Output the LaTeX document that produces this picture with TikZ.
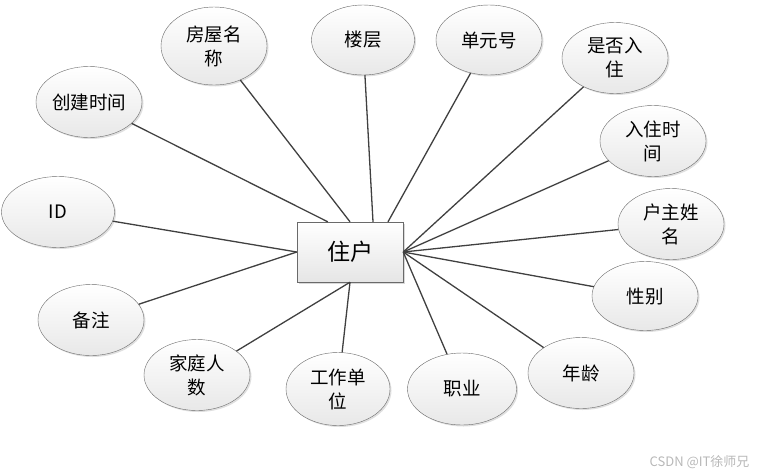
\documentclass[tikz,border=0pt]{standalone}
\usepackage{fontspec}
\newfontfamily\cjk{Noto Sans CJK SC}
\usetikzlibrary{calc,shapes.geometric,shadows}
\definecolor{edgegray}{HTML}{404040}
\definecolor{rimgray}{HTML}{6A6A6A}

\begin{document}
\begin{tikzpicture}[
  x=1pt,y=-1pt,
  attr/.style={ellipse,draw=rimgray,thin,top color=white,bottom color=black!9,
    minimum width=106pt,minimum height=71pt,inner sep=0pt,align=center,
    font=\cjk\fontsize{18.5}{24}\selectfont,
    drop shadow={shadow xshift=1.5pt,shadow yshift=-1.5pt,opacity=0.25}},
  ent/.style={rectangle,draw=rimgray,thin,top color=white,bottom color=black!10,
    minimum width=106pt,minimum height=60pt,inner sep=0pt,
    font=\cjk\fontsize{23}{27}\selectfont,
    drop shadow={shadow xshift=2pt,shadow yshift=-2pt,opacity=0.3}},
  link/.style={draw=edgegray,line width=1.3pt}
]
  \useasboundingbox (0,0) rectangle (757,475);

  % entity
  \node[ent] (zh) at (350,252) {住户};

  % attributes
  \node[attr] (cjsj) at (89,102)  {创建时间};
  \node[attr,minimum height=78pt] (fwmc) at (214,46) {房屋名\\称};
  \node[attr,minimum width=103pt,minimum height=70pt] (lc) at (363,40) {楼层};
  \node[attr,minimum width=106pt,minimum height=70pt] (dyh) at (489,40) {单元号};
  \node[attr] (sfrz) at (615,58)  {是否入\\住};
  \node[attr] (rzsj) at (653,141) {入住时\\间};
  \node[attr] (hzxm) at (671,224) {户主姓\\名};
  \node[attr,minimum height=69pt] (xb) at (645,296) {性别};
  \node[attr] (nl) at (581,373)   {年龄};
  \node[attr,minimum width=109pt,minimum height=72pt] (zy) at (462,389) {职业};
  \node[attr,minimum width=104pt,minimum height=73pt] (gzdw) at (338,389) {工作单\\位};
  \node[attr] (jtrs) at (197,375) {家庭人\\数};
  \node[attr] (bz) at (91,320)    {备注};
  \node[attr,minimum width=113pt] (id) at (58,212) {ID};

  % connectors
  \draw[link] ($(zh.north west)+(31,0)$) -- (cjsj);
  \draw[link] (zh.north) -- (fwmc);
  \draw[link] ($(zh.north)+(23,0)$) -- (lc);
  \draw[link] ($(zh.north)+(38,0)$) -- (dyh);
  \foreach \a in {sfrz,rzsj,hzxm,xb,nl,zy}
    \draw[link] (zh.east) -- (\a);
  \foreach \a in {jtrs,gzdw}
    \draw[link] (zh.south) -- (\a);
  \foreach \a in {id,bz}
    \draw[link] (zh.west) -- (\a);

  % watermark
  \node[text=black!28,font=\cjk\fontsize{13}{15}\selectfont,anchor=east] (wm) at (753,462) {CSDN @IT徐师兄};
\end{tikzpicture}
\end{document}
